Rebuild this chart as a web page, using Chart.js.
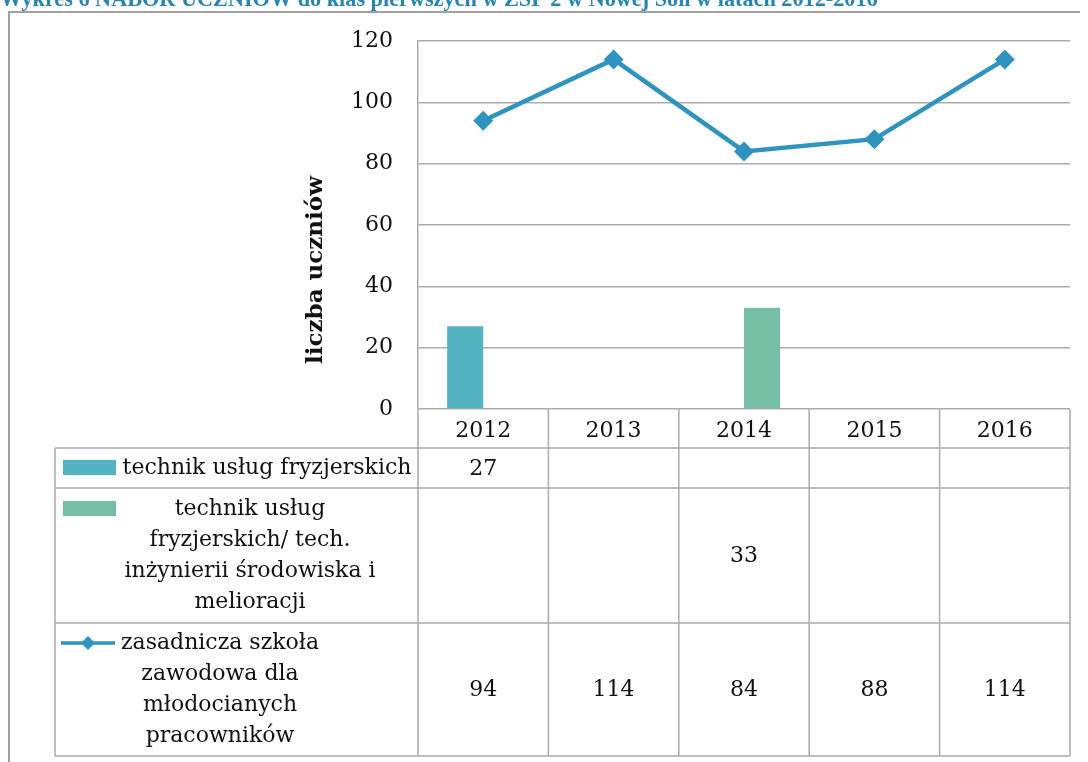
<!DOCTYPE html>
<html lang="pl">
<head>
<meta charset="utf-8">
<script src="https://cdn.jsdelivr.net/npm/chart.js@4"></script>
<style>
  html, body { margin: 0; padding: 0; background: #fff; }
  #wrap { width: 1088px; height: 762px; position: relative; }
</style>
</head>
<body>
<div id="wrap"><canvas id="chart" width="1088" height="762"></canvas></div>
<script>
const years = ["2012", "2013", "2014", "2015", "2016"];
const fryzjer = [27, null, null, null, null];
const fryzjerInz = [null, null, 33, null, null];
const zasadnicza = [94, 114, 84, 88, 114];
const yTicks = [0, 20, 40, 60, 80, 100, 120];
const seriesNames = [
  ["technik usług fryzjerskich"],
  ["technik usług", "fryzjerskich/ tech.", "inżynierii środowiska i", "melioracji"],
  ["zasadnicza szkoła", "zawodowa dla", "młodocianych", "pracowników"]
];
const titleText = "Wykres 6 NABÓR UCZNIÓW do klas pierwszych w ZSP 2 w Nowej Soli w latach 2012-2016";
const axisTitle = "liczba uczniów";

const FONT = "'DejaVu Serif', serif";
const gridColor = "#ababab";
const colors = ["#52b3c3", "#76bea4", "#2f93bf"];

// frame, cut-off heading, axis title and the data table under the plot
const decor = {
  id: "decor",
  afterDraw(chart) {
    const {ctx, chartArea, scales: {x}} = chart;
    ctx.save();

    // outer frame
    ctx.strokeStyle = "#a0a0a0";
    ctx.lineWidth = 2;
    ctx.beginPath();
    ctx.moveTo(9, 762); ctx.lineTo(9, 12); ctx.lineTo(1080, 12);
    ctx.stroke();

    // heading, only its lower half is in the picture
    const tf = "'Liberation Serif', serif";
    let size = 18;
    ctx.font = "bold " + size + "px " + tf;
    size = size * 878 / ctx.measureText(titleText).width;
    ctx.font = "bold " + size + "px " + tf;
    ctx.fillStyle = "#2a84b0";
    ctx.textAlign = "left";
    ctx.textBaseline = "alphabetic";
    ctx.fillText(titleText, 0, 6);

    // y axis title
    ctx.save();
    ctx.translate(322, 270);
    ctx.rotate(-Math.PI / 2);
    ctx.font = "bold 23px " + FONT;
    ctx.fillStyle = "#111";
    ctx.textAlign = "center";
    ctx.fillText(axisTitle, 0, 0);
    ctx.restore();

    // table
    const colW = (x.right - x.left) / years.length;
    const edges = years.map((_, i) => x.getPixelForValue(i) - colW / 2).concat([x.right]);
    const tLeft = 55, hBottom = 448;
    const rowTops = [448, 488, 623];
    const rowBottoms = [488, 623, 756];

    ctx.strokeStyle = gridColor;
    ctx.lineWidth = 1.5;
    ctx.beginPath();
    edges.forEach(e => { ctx.moveTo(e, chartArea.bottom); ctx.lineTo(e, 756); });
    ctx.moveTo(tLeft, hBottom); ctx.lineTo(tLeft, 756);
    [hBottom].concat(rowBottoms).forEach(y => { ctx.moveTo(tLeft, y); ctx.lineTo(x.right, y); });
    ctx.stroke();

    const series = [fryzjer, fryzjerInz, zasadnicza];
    const textCx = [267, 250, 220];
    ctx.font = "22px " + FONT;
    ctx.fillStyle = "#111";
    ctx.textAlign = "center";
    ctx.textBaseline = "middle";
    series.forEach((vals, r) => {
      const mid = (rowTops[r] + rowBottoms[r]) / 2;
      vals.forEach((v, i) => {
        if (v !== null) ctx.fillText(String(v), x.getPixelForValue(i), mid + 1);
      });
      const lines = seriesNames[r];
      const step = 31;
      lines.forEach((ln, k) => {
        const y = mid + (k - (lines.length - 1) / 2) * step;
        ctx.fillText(ln, textCx[r], y);
      });
      // legend key beside the first line
      const ky = mid - (lines.length - 1) / 2 * step;
      if (r < 2) {
        ctx.fillStyle = colors[r];
        ctx.fillRect(63, ky - 8, 53, 15);
        ctx.fillStyle = "#111";
      } else {
        ctx.strokeStyle = colors[2];
        ctx.lineWidth = 3.5;
        ctx.beginPath(); ctx.moveTo(61, ky); ctx.lineTo(115, ky); ctx.stroke();
        ctx.fillStyle = colors[2];
        ctx.beginPath();
        ctx.moveTo(88, ky - 7); ctx.lineTo(95, ky); ctx.lineTo(88, ky + 7); ctx.lineTo(81, ky);
        ctx.closePath(); ctx.fill();
        ctx.fillStyle = "#111";
      }
    });
    ctx.restore();
  }
};

new Chart(document.getElementById("chart"), {
  data: {
    labels: years,
    datasets: [
      { type: "bar", label: seriesNames[0].join(" "), data: fryzjer, backgroundColor: colors[0], order: 1 },
      { type: "bar", label: seriesNames[1].join(" "), data: fryzjerInz, backgroundColor: colors[1], order: 1 },
      {
        type: "line", label: seriesNames[2].join(" "), data: zasadnicza,
        borderColor: colors[2], borderWidth: 4.5, tension: 0,
        pointStyle: "rectRot", pointRadius: 10, pointBorderWidth: 0,
        pointBackgroundColor: colors[2], order: 0
      }
    ]
  },
  options: {
    responsive: false,
    animation: false,
    layout: { padding: { left: 0, top: 41, right: 18, bottom: 314 } },
    datasets: { bar: { categoryPercentage: 0.553, barPercentage: 1 } },
    plugins: { legend: { display: false }, tooltip: { enabled: false } },
    scales: {
      x: {
        afterFit: s => { s.height = 39; },
        grid: { display: false, drawTicks: false },
        border: { display: false },
        ticks: { padding: 9, color: "#111", font: { family: FONT, size: 22 } }
      },
      y: {
        min: 0, max: 120,
        afterFit: s => { s.width = 418; },
        afterBuildTicks: s => { s.ticks = yTicks.map(v => ({ value: v })); },
        grid: { color: gridColor, lineWidth: 1.5, drawTicks: false },
        border: { display: true, color: gridColor, width: 1.5 },
        ticks: { padding: 25, color: "#111", font: { family: FONT, size: 22 } }
      }
    }
  },
  plugins: [decor]
});
</script>
</body>
</html>
